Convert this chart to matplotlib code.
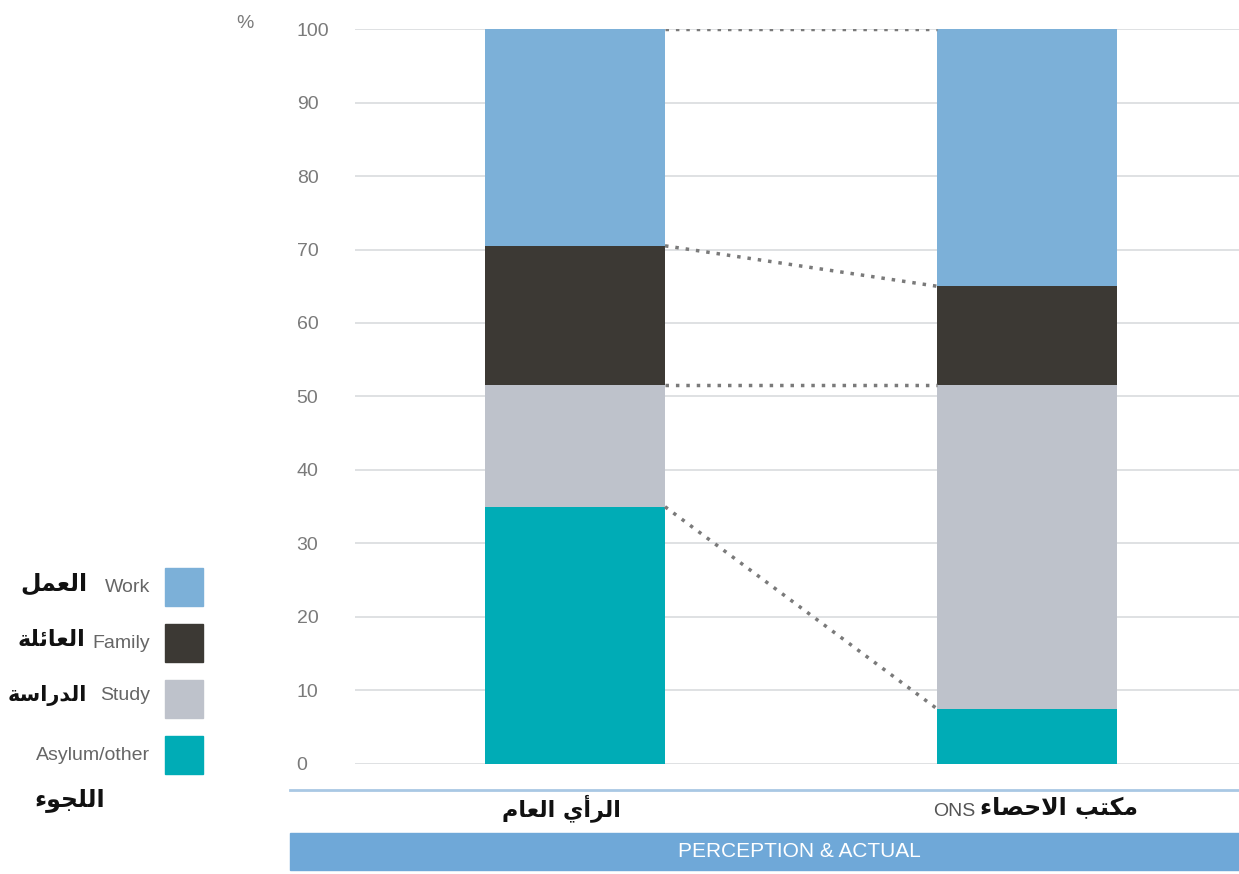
import matplotlib
matplotlib.use("Agg")
from matplotlib import pyplot as plt
from matplotlib.patches import Rectangle
from matplotlib.lines import Line2D

# 两组数据：公众认知 vs 官方统计 (ONS)，单位 %
groups = ["\ufee1\ufe8e\ufecc\ufedf\ufe8d \ufef1\ufe83\ufeae\ufedf\ufe8d",   # الرأي العام
          "\ufe80\ufe8e\ufebc\ufea3\ufefb\ufe8d \ufe90\ufe98\ufedc\ufee3"]    # مكتب الاحصاء
group_extra = ["", "ONS"]
reasons = ["Asylum/other", "Study", "Family", "Work"]
reasons_ar = ["\ufe80\ufeee\ufea0\ufee0\ufedf\ufe8d",          # اللجوء
              "\ufe94\ufeb3\ufe8d\ufead\ufeaa\ufedf\ufe8d",    # الدراسة
              "\ufe94\ufee0\ufe8b\ufe8e\ufecc\ufedf\ufe8d",    # العائلة
              "\ufede\ufee4\ufecc\ufedf\ufe8d"]                # العمل
perception = [35, 16.5, 19, 29.5]
actual = [7.5, 44, 13.5, 35]
colors = ["#00acb6", "#bec2cb", "#3c3934", "#7cb0d8"]
yticks = [0, 10, 20, 30, 40, 50, 60, 70, 80, 90, 100]

grey = "#7a7a7a"
band = "#6fa8d8"

plt.rcParams["font.family"] = ["Liberation Sans", "DejaVu Sans"]

fig = plt.figure(figsize=(12.39, 8.74), dpi=100)
ax = fig.add_axes([0.2865, 0.1259, 0.7135, 0.8409])

# 堆叠柱
x = [0, 1]
width = 0.398
bottoms = [0, 0]
tops = []
for i, name in enumerate(reasons):
    vals = [perception[i], actual[i]]
    ax.bar(x, vals, width, bottom=bottoms, color=colors[i], zorder=3)
    bottoms = [bottoms[0] + vals[0], bottoms[1] + vals[1]]
    tops.append(list(bottoms))

# 两根柱之间的虚线连接
for t in tops:
    ax.plot([x[0] + width / 2, x[1] - width / 2], t, linestyle=(0, (1, 2)),
            color=grey, lw=2.5, zorder=4)

ax.set_xlim(-0.487, 1.469)
ax.set_ylim(0, 100)
ax.set_yticks(yticks)
ax.set_yticklabels([str(v) for v in yticks], ha="left", color=grey, fontsize=14)
ax.tick_params(axis="y", length=0, pad=42)
ax.set_xticks([])
ax.grid(axis="y", color="#dcdee1", lw=1.3, zorder=0)
for s in ax.spines.values():
    s.set_visible(False)

fig.text(0.198, 0.973, "%", color=grey, fontsize=14, ha="center", va="center")

# 分组标签（阿拉伯语）
trans = ax.get_xaxis_transform()
ax.text(x[0] - 0.03, -0.06, groups[0], transform=trans, ha="center", va="center",
        fontsize=16, fontweight="bold", family=["DejaVu Sans"], color="#111111")
ar = ax.text(x[1] + 0.07, -0.06, groups[1], transform=trans, ha="center", va="center",
             fontsize=17, fontweight="bold", family=["DejaVu Sans"], color="#111111")
ax.annotate(group_extra[1], xy=(0, 0.35), xycoords=ar, xytext=(-3, 0),
            textcoords="offset points", ha="right", va="center",
            fontsize=14, color="#555555")

# 底部浅蓝线和标题条
fig.add_artist(Line2D([0.234, 1.0], [0.0961, 0.0961], color="#a9c8e4", lw=2))
fig.add_artist(Rectangle((0.234, 0.0046), 0.766, 0.0423, color=band))
fig.text(0.645, 0.0257, "PERCEPTION & ACTUAL", color="white", fontsize=15,
         ha="center", va="center")

# 左侧图例（手动画）
centers = {"Work": 587, "Family": 643, "Study": 699, "Asylum/other": 755}
for i, name in enumerate(reasons):
    cy = centers[name]
    fig.add_artist(Rectangle((165 / 1239, 1 - (cy + 19) / 874), 38 / 1239, 38 / 874,
                             color=colors[i]))
    fig.text(150 / 1239, 1 - (cy - (4 if name == "Study" else 0)) / 874, name,
             color="#666666", fontsize=14, ha="right", va="center")

ar_pos = {"Work": (88, 584, 17), "Family": (85, 640, 16), "Study": (87, 696, 15),
          "Asylum/other": (70, 800, 17)}
for i, name in enumerate(reasons):
    px, py, fs = ar_pos[name]
    ha = "center" if name == "Asylum/other" else "right"
    fig.text(px / 1239, 1 - py / 874, reasons_ar[i], color="#111111", fontsize=fs,
             fontweight="bold", family=["DejaVu Sans"], ha=ha, va="center")

fig.savefig("out.png", dpi=100)
